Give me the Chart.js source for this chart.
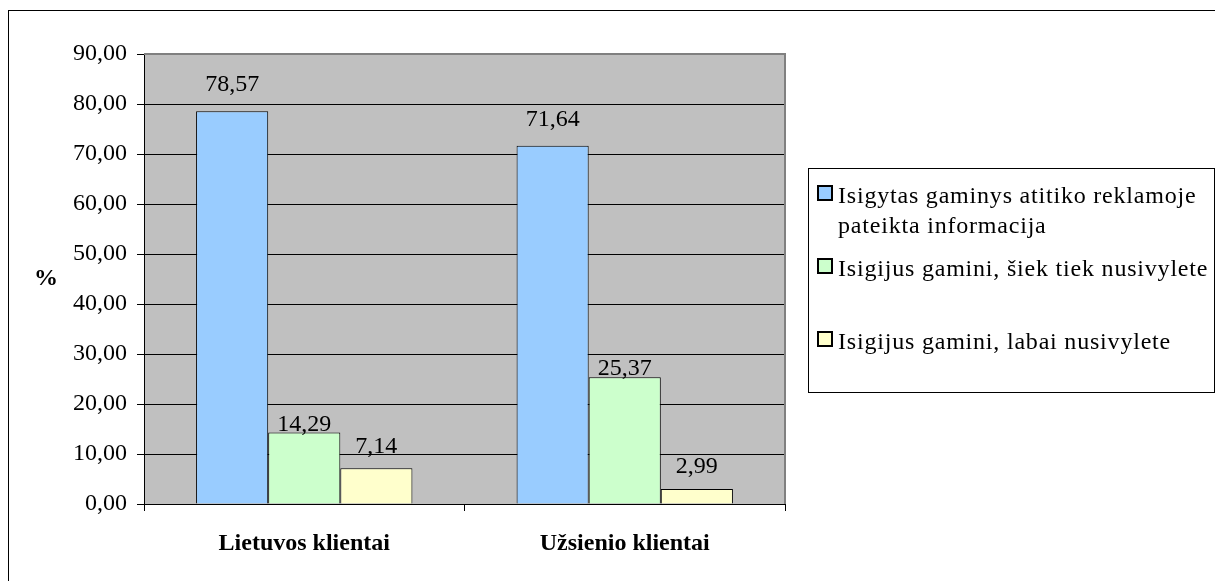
<!DOCTYPE html>
<html>
<head>
<meta charset="utf-8">
<script src="https://cdn.jsdelivr.net/npm/chart.js@4.4.1/dist/chart.umd.min.js"></script>
<style>
  html, body { margin: 0; padding: 0; background: #fff; overflow: hidden; width: 1215px; height: 581px; }
  #wrap { position: relative; width: 1215px; height: 581px; overflow: hidden; }
  #frame { position: absolute; left: 8px; top: 10px; width: 1300px; height: 700px; border: 1px solid #000; box-sizing: border-box; }
  #chart { position: absolute; left: 0; top: 0; }
  #legend {
    position: absolute; left: 808px; top: 168px; width: 407px; height: 225px;
    border: 1px solid #000; box-sizing: border-box; background: #fff;
    font-family: 'Liberation Serif', 'Times New Roman', serif; font-size: 24px; color: #000;
    padding-top: 11px;
  }
  .item { position: relative; height: 73px; padding-left: 29px; line-height: 30px; letter-spacing: 0.8px; width: 384px; }
  .sw { position: absolute; left: 8px; top: 5px; width: 16px; height: 16px; border: 2px solid #000; box-sizing: border-box; }
</style>
</head>
<body>
<div id="wrap">
  <div id="frame"></div>
  <canvas id="chart" width="1215" height="581"></canvas>
  <div id="legend"></div>
</div>
<script>
// Categories and series
const categories = ['Lietuvos klientai', 'Užsienio klientai'];
const seriesNames = [
  'Isigytas gaminys atitiko reklamoje pateikta informacija',
  'Isigijus gamini, šiek tiek nusivylete',
  'Isigijus gamini, labai nusivylete'
];
const matchedInfo = [78.57, 71.64];
const slightlyDisappointed = [14.29, 25.37];
const veryDisappointed = [7.14, 2.99];
const yTickLabels = ['0,00', '10,00', '20,00', '30,00', '40,00', '50,00', '60,00', '70,00', '80,00', '90,00'];
const yAxisTitle = '%';

const seriesColors = ['#99CCFF', '#CCFFCC', '#FFFFCC'];
const FONT = "'Liberation Serif', 'Times New Roman', serif";

const fmt = v => v.toFixed(2).replace('.', ',');

const seriesValues = [matchedInfo, slightlyDisappointed, veryDisappointed];
const labelLift = [26, 8, 22];

const datasets = seriesValues.map((vals, i) => ({
  label: seriesNames[i],
  data: vals,
  backgroundColor: seriesColors[i],
  borderColor: '#000',
  borderWidth: 1,
  categoryPercentage: 0.675,
  barPercentage: 1.0,
  labelLift: labelLift[i]
}));

// Plot background, plot frame, value labels and the vertical axis title
const excelStyle = {
  id: 'excelStyle',
  beforeDraw(chart) {
    const { ctx, chartArea: a } = chart;
    ctx.save();
    ctx.fillStyle = '#C0C0C0';
    ctx.fillRect(a.left, a.top, a.right - a.left, a.bottom - a.top);
    ctx.restore();
  },
  beforeDatasetsDraw(chart) {
    const { ctx, chartArea: a } = chart;
    ctx.save();
    ctx.strokeStyle = '#808080';
    ctx.lineWidth = 2;
    ctx.beginPath();
    ctx.moveTo(a.left, a.top);
    ctx.lineTo(a.right, a.top);
    ctx.lineTo(a.right, a.bottom);
    ctx.stroke();
    ctx.restore();
  },
  afterDatasetsDraw(chart) {
    const { ctx } = chart;
    ctx.save();
    ctx.font = '24px ' + FONT;
    ctx.fillStyle = '#000';
    ctx.textAlign = 'center';
    ctx.textBaseline = 'middle';
    chart.data.datasets.forEach((ds, di) => {
      const meta = chart.getDatasetMeta(di);
      meta.data.forEach((bar, i) => {
        ctx.fillText(fmt(ds.data[i]), bar.x, bar.y - ds.labelLift);
      });
    });
    ctx.restore();
  },
  afterDraw(chart) {
    const { ctx, chartArea: a } = chart;
    ctx.save();
    ctx.font = 'bold 24px ' + FONT;
    ctx.fillStyle = '#000';
    ctx.textAlign = 'center';
    ctx.textBaseline = 'middle';
    ctx.fillText(yAxisTitle, 46, (a.top + a.bottom) / 2);
    ctx.restore();
  }
};

new Chart(document.getElementById('chart'), {
  type: 'bar',
  data: { labels: categories, datasets },
  options: {
    responsive: false,
    animation: false,
    layout: { padding: { top: 54, right: 430, left: 0, bottom: 0 } },
    plugins: { legend: { display: false }, tooltip: { enabled: false } },
    scales: {
      x: {
        grid: { drawOnChartArea: false, drawTicks: true, tickLength: 7, color: '#000', offset: true },
        border: { color: '#000', width: 1 },
        ticks: { font: { family: FONT, size: 24, weight: 'bold' }, color: '#000', padding: 18, maxRotation: 0 },
        afterFit(scale) { scale.height = 77; }
      },
      y: {
        min: 0, max: 90,
        ticks: {
          stepSize: 10,
          font: { family: FONT, size: 24 },
          color: '#000',
          padding: 10,
          callback: (v, i) => yTickLabels[i]
        },
        grid: { color: '#000', tickLength: 7, lineWidth: 1 },
        border: { color: '#000', width: 1 },
        afterFit(scale) { scale.width = 144; }
      }
    }
  },
  plugins: [excelStyle]
});

// Legend built from the same series names and colours
const legend = document.getElementById('legend');
seriesNames.forEach((name, i) => {
  const item = document.createElement('div');
  item.className = 'item';
  const sw = document.createElement('span');
  sw.className = 'sw';
  sw.style.background = seriesColors[i];
  item.appendChild(sw);
  item.appendChild(document.createTextNode(name));
  legend.appendChild(item);
});
</script>
</body>
</html>
